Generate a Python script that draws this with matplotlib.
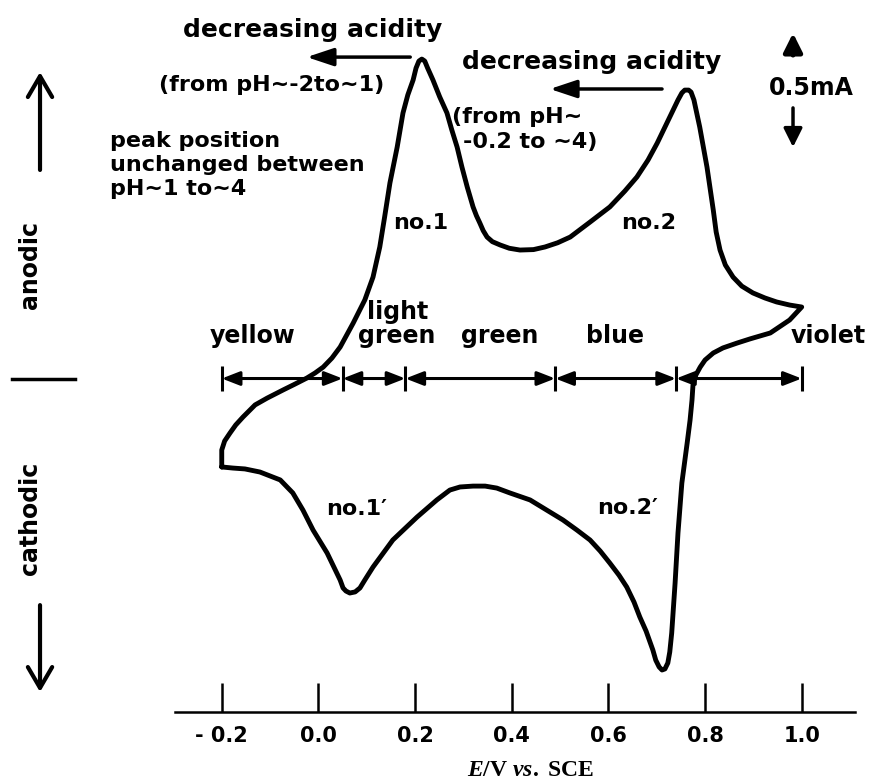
import matplotlib
matplotlib.use('Agg')
import matplotlib.pyplot as plt

plt.rcParams['font.family'] = ['DejaVu Sans']
plt.rcParams['mathtext.fontset'] = 'custom'
plt.rcParams['mathtext.it'] = 'Liberation Serif:italic:bold'
plt.rcParams['mathtext.rm'] = 'Liberation Serif:bold'

# closed CV loop: E in V vs. SCE, i in mA
potential = [
    -0.200, -0.200, -0.194, -0.183, -0.171, -0.156, -0.131, -0.106, -0.073, -0.050,
    -0.024, -0.007, 0.010, 0.028, 0.045, 0.072, 0.096, 0.113, 0.127, 0.137,
    0.148, 0.163, 0.175, 0.185, 0.196, 0.202, 0.208, 0.214, 0.220, 0.226,
    0.237, 0.251, 0.266, 0.276, 0.287, 0.297, 0.308, 0.320, 0.327, 0.334,
    0.341, 0.349, 0.360, 0.376, 0.395, 0.417, 0.445, 0.469, 0.495, 0.521,
    0.562, 0.603, 0.634, 0.659, 0.682, 0.701, 0.717, 0.734, 0.744, 0.752,
    0.758, 0.766, 0.771, 0.777, 0.789, 0.804, 0.817, 0.823, 0.831, 0.842,
    0.858, 0.876, 0.899, 0.924, 0.948, 0.975, 1.000, 0.975, 0.935, 0.893,
    0.866, 0.837, 0.817, 0.800, 0.790, 0.781, 0.775, 0.773, 0.769, 0.763,
    0.752, 0.744, 0.738, 0.731, 0.727, 0.723, 0.717, 0.711, 0.705, 0.698,
    0.692, 0.678, 0.665, 0.653, 0.638, 0.622, 0.603, 0.583, 0.562, 0.535,
    0.506, 0.438, 0.396, 0.369, 0.345, 0.320, 0.293, 0.272, 0.245, 0.204,
    0.154, 0.113, 0.096, 0.086, 0.076, 0.065, 0.057, 0.051, 0.045, 0.018,
    -0.011, -0.032, -0.053, -0.079, -0.121, -0.152, -0.177, -0.200,
]
current = [
    -0.402, -0.325, -0.284, -0.248, -0.211, -0.175, -0.120, -0.089, -0.052, -0.027,
    0.002, 0.025, 0.052, 0.093, 0.143, 0.252, 0.357, 0.461, 0.598, 0.734,
    0.889, 1.052, 1.207, 1.289, 1.357, 1.411, 1.443, 1.452, 1.443, 1.411,
    1.357, 1.280, 1.207, 1.130, 1.052, 0.961, 0.870, 0.780, 0.740, 0.707,
    0.672, 0.643, 0.622, 0.607, 0.592, 0.584, 0.586, 0.598, 0.617, 0.643,
    0.711, 0.780, 0.852, 0.916, 0.993, 1.070, 1.143, 1.220, 1.266, 1.298,
    1.311, 1.311, 1.302, 1.266, 1.143, 0.961, 0.766, 0.666, 0.584, 0.516,
    0.461, 0.420, 0.389, 0.366, 0.348, 0.334, 0.325, 0.266, 0.207, 0.180,
    0.161, 0.139, 0.116, 0.084, 0.052, 0.016, -0.030, -0.098, -0.189, -0.293,
    -0.475, -0.702, -0.930, -1.157, -1.243, -1.293, -1.320, -1.325, -1.311, -1.280,
    -1.234, -1.148, -1.084, -1.016, -0.948, -0.894, -0.839, -0.784, -0.734, -0.689,
    -0.643, -0.552, -0.520, -0.498, -0.489, -0.489, -0.493, -0.507, -0.552, -0.630,
    -0.734, -0.857, -0.916, -0.952, -0.970, -0.975, -0.966, -0.952, -0.916, -0.793,
    -0.689, -0.598, -0.520, -0.461, -0.425, -0.411, -0.407, -0.402,
]

tick_values = [-0.2, 0.0, 0.2, 0.4, 0.6, 0.8, 1.0]
tick_labels = ['- 0.2', '0.0', '0.2', '0.4', '0.6', '0.8', '1.0']

# colour ranges of the film along the potential axis
zone_bounds = [-0.2, 0.05, 0.18, 0.49, 0.74, 1.0]
zone_names = ['yellow', 'light\ngreen', 'green', 'blue', 'violet']
zone_label_x = [-0.137, 0.163, 0.376, 0.614, 1.054]

peak_names = ['no.1', 'no.2', 'no.1\u2032', 'no.2\u2032']
peak_label_pos = [(0.212, 0.707), (0.684, 0.707), (0.080, -0.593), (0.640, -0.589)]

fig = plt.figure(figsize=(8.73, 7.82), dpi=100)
ax = fig.add_axes([0, 0, 1, 1])
ax.set_xlim(-0.6588, 1.1475)
ax.set_ylim(-1.834, 1.7205)

for side in ['top', 'right', 'left']:
    ax.spines[side].set_visible(False)
ax.spines['bottom'].set_position(('data', -1.516))
ax.spines['bottom'].set_bounds(-0.297, 1.110)
ax.spines['bottom'].set_linewidth(1.8)
ax.set_yticks([])
ax.set_xticks(tick_values, tick_labels)
ax.tick_params(axis='x', direction='in', length=21, width=1.8, pad=10, labelsize=15)
for lab in ax.get_xticklabels():
    lab.set_fontweight('bold')

ax.text(0.44, -1.784, r'$E$/V $vs.$ SCE', ha='center', va='center', fontsize=17,
        family='Liberation Serif', fontweight='bold')

ax.plot(potential, current, color='black', lw=3.5, solid_joinstyle='round', solid_capstyle='round')

# colour zones
for a, b in zip(zone_bounds[:-1], zone_bounds[1:]):
    ax.annotate('', xy=(b, 0), xytext=(a, 0),
                arrowprops=dict(arrowstyle='<|-|>,head_length=0.9,head_width=0.35',
                                mutation_scale=12, lw=2.2, color='black', shrinkA=0, shrinkB=0))
ax.vlines(zone_bounds, -0.055, 0.055, color='black', lw=2.2)
for x, name in zip(zone_label_x, zone_names):
    ax.text(x, 0.14, name, ha='center', va='bottom', fontsize=17, fontweight='bold',
            linespacing=1.0)

for (x, y), name in zip(peak_label_pos, peak_names):
    ax.text(x, y, name, ha='center', va='center', fontsize=16, fontweight='bold')

# acidity notes
ax.text(-0.011, 1.584, 'decreasing acidity', ha='center', va='center', fontsize=18, fontweight='bold')
ax.annotate('', xy=(-0.024, 1.461), xytext=(0.190, 1.461),
            arrowprops=dict(arrowstyle='-|>,head_length=0.9,head_width=0.3',
                            mutation_scale=18, lw=2.5, color='black', shrinkA=0, shrinkB=0))
ax.text(-0.096, 1.334, '(from pH~-2to~1)', ha='center', va='center', fontsize=16, fontweight='bold')
ax.text(-0.431, 0.970, 'peak position\nunchanged between\npH~1 to~4', ha='left', va='center',
        fontsize=16, fontweight='bold', linespacing=1.25)

ax.text(0.566, 1.439, 'decreasing acidity', ha='center', va='center', fontsize=18, fontweight='bold')
ax.annotate('', xy=(0.479, 1.316), xytext=(0.711, 1.316),
            arrowprops=dict(arrowstyle='-|>,head_length=0.9,head_width=0.3',
                            mutation_scale=18, lw=2.5, color='black', shrinkA=0, shrinkB=0))
ax.text(0.277, 1.189, '(from pH~', ha='left', va='center', fontsize=16, fontweight='bold')
ax.text(0.299, 1.075, '-0.2 to ~4)', ha='left', va='center', fontsize=16, fontweight='bold')

# current scale
ax.text(1.019, 1.320, '0.5mA', ha='center', va='center', fontsize=17, fontweight='bold')
ax.annotate('', xy=(0.982, 1.570), xytext=(0.982, 1.470),
            arrowprops=dict(arrowstyle='-|>,head_length=0.8,head_width=0.4',
                            mutation_scale=14, lw=3.5, color='black', shrinkA=0, shrinkB=0))
ax.annotate('', xy=(0.982, 1.052), xytext=(0.982, 1.230),
            arrowprops=dict(arrowstyle='-|>,head_length=0.8,head_width=0.4',
                            mutation_scale=14, lw=2.5, color='black', shrinkA=0, shrinkB=0))

# anodic / cathodic side labels
ax.text(-0.597, 0.516, 'anodic', rotation=90, ha='center', va='center', fontsize=17, fontweight='bold')
ax.text(-0.597, -0.634, 'cathodic', rotation=90, ha='center', va='center', fontsize=17, fontweight='bold')
ax.annotate('', xy=(-0.576, 1.393), xytext=(-0.576, 0.948),
            arrowprops=dict(arrowstyle='->,head_length=0.6,head_width=0.35',
                            mutation_scale=25, lw=3, color='black', shrinkA=0, shrinkB=0))
ax.annotate('', xy=(-0.576, -1.425), xytext=(-0.576, -1.03),
            arrowprops=dict(arrowstyle='->,head_length=0.6,head_width=0.35',
                            mutation_scale=25, lw=3, color='black', shrinkA=0, shrinkB=0))
ax.plot([-0.634, -0.504], [0, 0], color='black', lw=2.5)

fig.savefig('out.png', dpi=100)
